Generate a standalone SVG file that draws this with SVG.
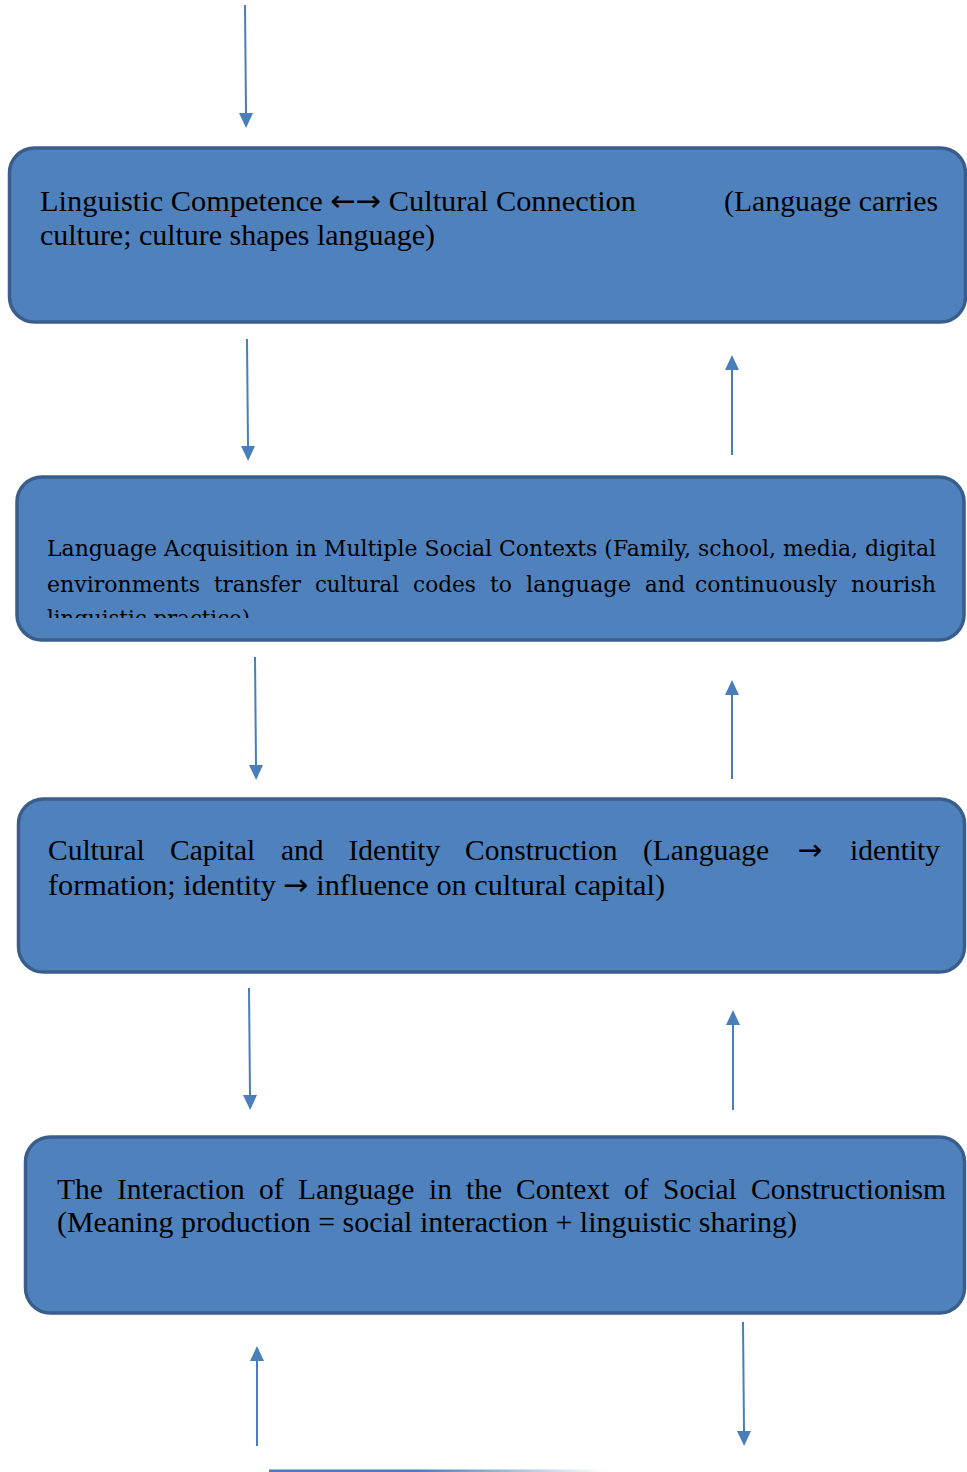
<svg xmlns="http://www.w3.org/2000/svg" width="967" height="1472" viewBox="0 0 967 1472">
  <style>
    .box { fill: #4F81BD; stroke: #3A5E8C; stroke-width: 3.5; }
    .t { font-family: "Liberation Serif", "Times New Roman", serif; font-size: 29.5px; fill: #000; }
    .g { font-family: "DejaVu Serif", Georgia, serif; font-size: 21.5px; fill: #000; }
    .ar { font-family: "DejaVu Sans", sans-serif; }
    .conn { stroke: #4A7EBB; stroke-width: 2; fill: none; marker-end: url(#ah); }
  </style>
  <defs>
    <marker id="ah" viewBox="0 0 15 15" markerWidth="15" markerHeight="15" refX="0" refY="7.5" orient="auto" markerUnits="userSpaceOnUse">
      <path d="M0,0.5 L15,7.5 L0,14.5 Z" fill="#4A7EBB"/>
    </marker>
    <linearGradient id="fade" x1="0" y1="0" x2="1" y2="0">
      <stop offset="0" stop-color="#4A7EBB" stop-opacity="1"/>
      <stop offset="0.45" stop-color="#4A7EBB" stop-opacity="1"/>
      <stop offset="1" stop-color="#4A7EBB" stop-opacity="0"/>
    </linearGradient>
    <clipPath id="clip2">
      <rect x="17" y="477" width="947" height="141"/>
    </clipPath>
  </defs>

  <g id="connectors">
    <line class="conn" x1="245" y1="5" x2="246" y2="113"/>
    <line class="conn" x1="247" y1="339" x2="248" y2="446"/>
    <line class="conn" x1="732" y1="455" x2="732" y2="370"/>
    <line class="conn" x1="255" y1="657" x2="256" y2="765"/>
    <line class="conn" x1="732" y1="779" x2="732" y2="695"/>
    <line class="conn" x1="249" y1="988" x2="250" y2="1095"/>
    <line class="conn" x1="733" y1="1110" x2="733" y2="1025"/>
    <line class="conn" x1="257" y1="1446" x2="257" y2="1361"/>
    <line class="conn" x1="743" y1="1322" x2="744" y2="1431"/>
    <rect x="269" y="1469.5" width="336" height="2.5" fill="url(#fade)"/>
  </g>

  <g id="node-1">
    <rect class="box" x="9.5" y="148" width="956" height="174" rx="25" ry="25"/>
    <text class="t" x="40" y="211" textLength="596" lengthAdjust="spacingAndGlyphs">Linguistic Competence <tspan class="ar">←→</tspan> Cultural Connection</text>
    <text class="t" x="724" y="211" textLength="214" lengthAdjust="spacingAndGlyphs">(Language carries</text>
    <text class="t" x="40" y="245" textLength="395" lengthAdjust="spacingAndGlyphs">culture; culture shapes language)</text>
  </g>

  <g id="node-2">
    <rect class="box" x="17" y="477" width="947" height="163" rx="25" ry="25"/>
    <g clip-path="url(#clip2)">
      <text class="g" x="47" y="556" textLength="889" lengthAdjust="spacingAndGlyphs">Language Acquisition in Multiple Social Contexts (Family, school, media, digital</text>
      <text class="g" x="47" y="592" textLength="153" lengthAdjust="spacingAndGlyphs">environments</text>
      <text class="g" x="214" y="592" textLength="87" lengthAdjust="spacingAndGlyphs">transfer</text>
      <text class="g" x="315" y="592" textLength="84" lengthAdjust="spacingAndGlyphs">cultural</text>
      <text class="g" x="413" y="592" textLength="63" lengthAdjust="spacingAndGlyphs">codes</text>
      <text class="g" x="490" y="592" textLength="22" lengthAdjust="spacingAndGlyphs">to</text>
      <text class="g" x="526" y="592" textLength="105" lengthAdjust="spacingAndGlyphs">language</text>
      <text class="g" x="645" y="592" textLength="40" lengthAdjust="spacingAndGlyphs">and</text>
      <text class="g" x="695" y="592" textLength="142" lengthAdjust="spacingAndGlyphs">continuously</text>
      <text class="g" x="851" y="592" textLength="85" lengthAdjust="spacingAndGlyphs">nourish</text>
      <text class="g" x="47" y="626" textLength="203" lengthAdjust="spacingAndGlyphs">linguistic practice)</text>
    </g>
  </g>

  <g id="node-3">
    <rect class="box" x="18.5" y="799" width="946" height="173" rx="25" ry="25"/>
    <text class="t" x="48" y="860">Cultural</text>
    <text class="t" x="170" y="860">Capital</text>
    <text class="t" x="281" y="860">and</text>
    <text class="t" x="348.5" y="860">Identity</text>
    <text class="t" x="465" y="860">Construction</text>
    <text class="t" x="643" y="860">(Language</text>
    <text class="t ar" x="810" y="860" text-anchor="middle">→</text>
    <text class="t" x="850" y="860" textLength="90" lengthAdjust="spacingAndGlyphs">identity</text>
    <text class="t" x="48" y="895" textLength="617" lengthAdjust="spacingAndGlyphs">formation; identity <tspan class="ar">→</tspan> influence on cultural capital)</text>
  </g>

  <g id="node-4">
    <rect class="box" x="25.5" y="1137" width="939" height="176" rx="25" ry="25"/>
    <text class="t" x="57" y="1199">The</text>
    <text class="t" x="117" y="1199">Interaction</text>
    <text class="t" x="259" y="1199">of</text>
    <text class="t" x="298" y="1199">Language</text>
    <text class="t" x="429" y="1199">in</text>
    <text class="t" x="466" y="1199">the</text>
    <text class="t" x="516" y="1199">Context</text>
    <text class="t" x="624" y="1199">of</text>
    <text class="t" x="663" y="1199">Social</text>
    <text class="t" x="751" y="1199" textLength="195" lengthAdjust="spacingAndGlyphs">Constructionism</text>
    <text class="t" x="57" y="1232" textLength="740" lengthAdjust="spacingAndGlyphs">(Meaning production = social interaction + linguistic sharing)</text>
  </g>
</svg>
